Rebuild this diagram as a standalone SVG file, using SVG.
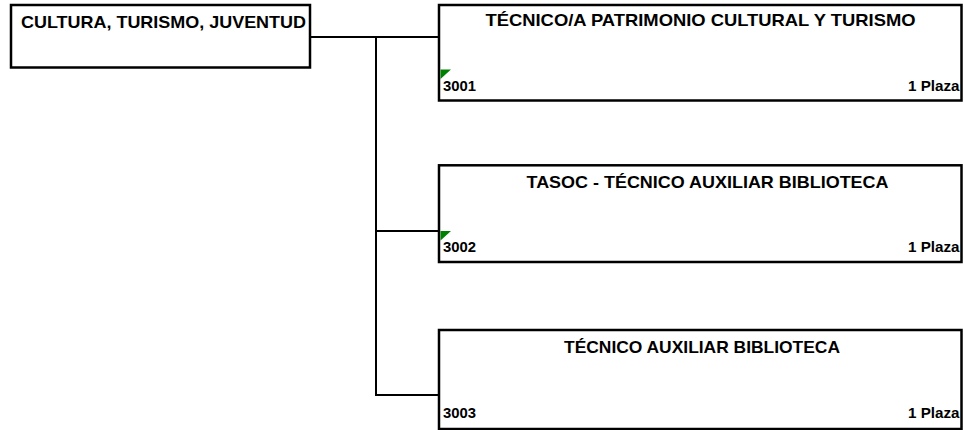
<svg xmlns="http://www.w3.org/2000/svg" width="964" height="430" viewBox="0 0 964 430">
<style>
.box{fill:#fff;stroke:#000;stroke-width:2.5}
.conn{fill:none;stroke:#000;stroke-width:2}
.t{font-family:"Liberation Sans",Arial,sans-serif;font-weight:bold;font-size:17px;fill:#000}
.s{font-family:"Liberation Sans",Arial,sans-serif;font-weight:bold;font-size:14px;fill:#000}
.mark{fill:#008000}
</style>
<rect width="964" height="430" fill="#fff"/>
<g id="connectors">
<path class="conn" d="M311,37 H439 M376,37 V396 M376,231 H439 M376,395 H439"/>
</g>
<g id="n0">
<rect class="box" x="11" y="5" width="299" height="62.5"/>
<text class="t" x="21" y="28" textLength="285" lengthAdjust="spacingAndGlyphs">CULTURA, TURISMO, JUVENTUD</text>
</g>
<g id="n3001">
<rect class="box" x="439" y="5" width="522.5" height="95.5"/>
<text class="t" x="485.5" y="26" textLength="430" lengthAdjust="spacingAndGlyphs">TÉCNICO/A PATRIMONIO CULTURAL Y TURISMO</text>
<polygon class="mark" points="440.5,69.5 451,69.5 440.5,79"/>
<text class="s" x="443" y="90.7" textLength="33" lengthAdjust="spacingAndGlyphs">3001</text>
<text class="s" x="908" y="90.7" textLength="51.5" lengthAdjust="spacingAndGlyphs">1 Plaza</text>
</g>
<g id="n3002">
<rect class="box" x="439" y="165.3" width="522.5" height="96.7"/>
<text class="t" x="526.5" y="188" textLength="362" lengthAdjust="spacingAndGlyphs">TASOC - TÉCNICO AUXILIAR BIBLIOTECA</text>
<polygon class="mark" points="440.5,231 451,231 440.5,240.5"/>
<text class="s" x="443" y="252" textLength="33" lengthAdjust="spacingAndGlyphs">3002</text>
<text class="s" x="908" y="252" textLength="51.5" lengthAdjust="spacingAndGlyphs">1 Plaza</text>
</g>
<g id="n3003">
<rect class="box" x="439" y="330" width="522.5" height="99"/>
<text class="t" x="564" y="353" textLength="276" lengthAdjust="spacingAndGlyphs">TÉCNICO AUXILIAR BIBLIOTECA</text>
<text class="s" x="443" y="418" textLength="33" lengthAdjust="spacingAndGlyphs">3003</text>
<text class="s" x="908" y="418" textLength="51.5" lengthAdjust="spacingAndGlyphs">1 Plaza</text>
</g>
</svg>
